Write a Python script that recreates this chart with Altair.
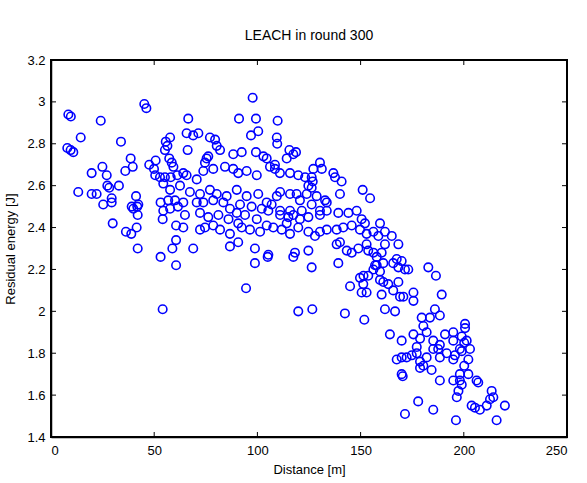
import altair as alt
import pandas as pd

# Distance [m] and residual energy [J]
dist = [
    8.4, 9.6, 24.1, 45.2, 46.2, 14.4, 33.9, 7.9, 9.5, 10.8, 38.6, 55.6, 56.4, 57.7, 55.2, 50.7, 47.6, 49.9, 50.5, 57.3,
    58.5, 24.9, 19.7, 27.0, 36.0, 39.6, 27.3, 28.2, 32.9, 13.2, 19.7, 22.1, 29.4, 41.2, 25.3, 39.1, 41.8, 52.8, 55.2, 58.0,
    61.2, 54.4, 57.7, 53.1, 56.8, 60.1, 61.5,
    29.4, 42.3, 39.9, 42.0, 29.9, 36.3, 38.9, 41.5, 42.0, 54.4, 54.1, 57.7, 60.6, 60.6, 58.8, 53.1, 60.6, 54.1,
    97.7, 66.5, 91.1, 99.3, 109.8, 65.7, 68.9, 71.4, 100.4, 96.9, 109.4, 109.6, 66.2, 77.0, 79.5, 80.3, 81.9, 75.4, 74.6, 76.2,
    88.3, 92.4, 99.3, 102.9, 104.5, 114.2, 115.5, 118.7, 108.5, 59.3,
    64.1, 65.7, 70.6, 73.8, 78.6, 84.3, 88.3, 90.7, 94.8, 99.7, 106.1, 108.5, 110.9, 115.8, 119.8, 123.1, 126.3,
    62.5, 67.3, 72.2, 77.0, 80.3, 85.1, 90.0, 94.8, 100.4, 104.5, 109.4, 111.0, 115.8, 119.0, 120.6, 123.9, 128.7, 132.8,
    64.1, 70.6, 73.8, 78.6, 83.5, 86.7, 91.6, 97.2, 102.1, 106.9, 111.0, 115.8, 121.5, 126.3, 130.3, 133.6,
    64.9, 72.2, 76.2, 81.1, 86.0, 90.0, 94.0, 99.7, 105.3, 111.0, 115.0, 117.4, 120.6, 124.7, 130.3, 133.6,
    64.1, 72.2, 74.6, 78.6, 81.9, 86.7, 90.7, 92.4, 96.4, 101.3, 104.5, 107.7, 111.8, 114.2, 115.8, 119.8, 124.7, 127.9,
    130.3, 133.6,
    68.9, 86.7, 98.8, 105.3, 118.2, 124.7,
    90.7, 98.8, 105.0, 117.4, 94.5, 119.8,
    130.3, 131.2, 127.1, 126.3, 126.8, 124.7, 136.8, 137.6, 140.8, 140.0, 151.0, 154.6, 117.4, 139.2, 144.1, 148.1, 150.5,
    152.1, 159.4, 161.8, 165.1, 168.3, 158.6, 156.2, 152.9, 149.7, 145.7, 141.6, 138.4, 140.0, 138.4, 143.3, 145.7, 148.9,
    152.9, 153.7, 156.2, 157.8, 160.2, 161.8, 167.5, 169.9, 171.5, 173.1, 165.8, 168.3, 157.0, 159.4, 151.4, 149.7, 139.2,
    126.3,
    126.6, 142.4, 151.8, 144.9, 153.7, 151.3, 150.5, 152.9, 156.2, 157.8, 159.4, 160.2, 161.8,
    161.0, 182.8, 186.5, 189.3, 161.0, 163.4, 165.8, 168.3, 169.1, 170.7, 175.6, 175.6, 166.7, 179.6, 183.6, 186.0, 188.4,
    200.6, 200.6, 164.2, 169.9, 175.6, 180.4, 182.0, 178.8, 185.2, 190.9, 194.9, 199.0, 194.9, 188.4, 200.2, 177.2,
    201.4, 203.0, 198.1, 194.9, 191.7, 188.4, 185.2, 182.0, 178.8, 177.2, 174.8, 172.3, 169.9, 167.5, 180.4, 184.4, 188.4,
    194.9, 198.1, 202.2, 206.2, 199.0, 197.4, 196.6, 213.5, 214.3, 212.7, 211.1, 207.8, 205.4, 203.8, 177.9, 185.2, 171.5,
    196.2, 215.9, 219.9, 169.9, 170.4,
    187.6, 199.0, 195.7, 202.2, 178.8, 198.1, 200.2, 207.0,
]
energy = [
    2.94, 2.93, 2.91, 2.99, 2.97, 2.83, 2.81, 2.78, 2.77, 2.76, 2.73, 2.81, 2.79, 2.83, 2.77, 2.72, 2.70, 2.68, 2.65, 2.73,
    2.71, 2.69, 2.66, 2.65, 2.67, 2.69, 2.60, 2.59, 2.60, 2.57, 2.56, 2.56, 2.54, 2.55, 2.51, 2.50, 2.50, 2.64, 2.64, 2.64,
    2.65, 2.61, 2.58, 2.52, 2.53, 2.53, 2.50,
    2.52, 2.51, 2.49, 2.46, 2.42, 2.38, 2.37, 2.40, 2.30, 2.48, 2.44, 2.49, 2.41, 2.34, 2.30, 2.26, 2.22, 2.01,
    3.02, 2.92, 2.92, 2.92, 2.91, 2.85, 2.84, 2.85, 2.86, 2.84, 2.83, 2.80, 2.77, 2.83, 2.82, 2.79, 2.77, 2.73, 2.71, 2.74,
    2.75, 2.76, 2.76, 2.74, 2.73, 2.73, 2.77, 2.76, 2.70, 2.69,
    2.66, 2.65, 2.63, 2.67, 2.68, 2.69, 2.68, 2.66, 2.67, 2.65, 2.69, 2.68, 2.66, 2.66, 2.65, 2.64, 2.59,
    2.60, 2.57, 2.56, 2.58, 2.56, 2.55, 2.58, 2.55, 2.56, 2.52, 2.55, 2.57, 2.56, 2.56, 2.53, 2.56, 2.55, 2.53,
    2.52, 2.52, 2.52, 2.53, 2.52, 2.49, 2.51, 2.50, 2.49, 2.51, 2.48, 2.48, 2.48, 2.51, 2.48, 2.52,
    2.46, 2.47, 2.45, 2.46, 2.44, 2.47, 2.46, 2.44, 2.48, 2.46, 2.45, 2.46, 2.44, 2.45, 2.46, 2.48,
    2.40, 2.39, 2.40, 2.41, 2.39, 2.37, 2.42, 2.40, 2.39, 2.38, 2.41, 2.40, 2.39, 2.42, 2.37, 2.40, 2.38, 2.36,
    2.38, 2.39,
    2.30, 2.31, 2.30, 2.27, 2.28, 2.29,
    2.33, 2.23, 2.26, 2.26, 2.11, 2.00,
    2.71, 2.68, 2.68, 2.64, 2.62, 2.60, 2.66, 2.64, 2.62, 2.56, 2.58, 2.54, 2.75, 2.47, 2.47, 2.48, 2.44,
    2.42, 2.42, 2.38, 2.36, 2.32, 2.36, 2.38, 2.37, 2.39, 2.41, 2.40, 2.39, 2.33, 2.32, 2.29, 2.28, 2.30,
    2.32, 2.29, 2.28, 2.26, 2.28, 2.32, 2.25, 2.24, 2.20, 2.20, 2.23, 2.21, 2.22, 2.19, 2.17, 2.16, 2.23,
    2.21,
    2.01, 1.99, 1.96, 2.12, 2.17, 2.13, 2.09, 2.09, 2.20, 2.22, 2.15, 2.08, 2.01,
    2.23, 2.21, 2.17, 2.08, 2.14, 2.13, 2.10, 2.14, 2.07, 2.07, 2.09, 2.05, 2.00, 1.97, 1.97, 2.01, 1.98,
    1.94, 1.92, 1.89, 1.86, 1.89, 1.93, 1.90, 1.87, 1.86, 1.89, 1.90, 1.88, 1.86, 1.84, 1.85, 1.83,
    1.86, 1.82, 1.82, 1.77, 1.80, 1.78, 1.82, 1.78, 1.76, 1.80, 1.79, 1.78, 1.78, 1.77, 1.74, 1.72, 1.67,
    1.67, 1.67, 1.70, 1.67, 1.65, 1.62, 1.59, 1.62, 1.59, 1.58, 1.55, 1.53, 1.54, 1.55, 1.57, 1.53, 1.51,
    1.48, 1.48, 1.55, 1.70, 1.69,
    1.82, 1.81, 1.79, 1.77, 1.73, 1.70, 1.74, 1.66,
]

x_ticks = [0, 50, 100, 150, 200, 250]
y_ticks = [1.4, 1.6, 1.8, 2.0, 2.2, 2.4, 2.6, 2.8, 3.0, 3.2]
x_range = [0, 250]
y_range = [1.4, 3.2]

W, H = 516, 377
FONT = "Liberation Sans"

df = pd.DataFrame({"dist": dist, "energy": energy})
xt = pd.DataFrame({"t": x_ticks})
yt = pd.DataFrame({"t": y_ticks})

xs = alt.Scale(domain=x_range, nice=False, zero=False)
ys = alt.Scale(domain=y_range, nice=False, zero=False)

common = dict(tickSize=0, grid=False, labelFontSize=13, titleFontSize=13,
              labelFont=FONT, titleFont=FONT, labelColor="black", titleColor="black",
              titleFontWeight="normal", domain=True, domainColor="black", domainWidth=1.5)
x_axis = alt.Axis(values=x_ticks, labelPadding=7, titlePadding=6, **common)
y_axis = alt.Axis(values=y_ticks, labelPadding=6, titlePadding=9, format=".1~f", **common)
XT = "Distance [m]"
YT = "Residual energy [J]"

points = alt.Chart(df).mark_point(
    shape="circle", filled=False, color="#0000ff", size=72, strokeWidth=1.6, opacity=1
).encode(
    x=alt.X("dist:Q", scale=xs, title=XT, axis=x_axis),
    y=alt.Y("energy:Q", scale=ys, title=YT, axis=y_axis),
)

# plot box (MATLAB style)
box = alt.Chart(xt).mark_rect(
    fill="transparent", stroke="black", strokeWidth=2
).encode(
    x=alt.value(0), x2=alt.value(W), y=alt.value(0), y2=alt.value(H)
)

# inward tick marks on all four sides
bottom_ticks = alt.Chart(xt).mark_rule(color="black", strokeWidth=1).encode(
    x=alt.X("t:Q", scale=xs, title=XT, axis=x_axis),
    y=alt.value(H), y2=alt.value(H - 5))
top_ticks = alt.Chart(xt).mark_rule(color="black", strokeWidth=1).encode(
    x=alt.X("t:Q", scale=xs, title=XT, axis=x_axis),
    y=alt.value(0), y2=alt.value(5))
left_ticks = alt.Chart(yt).mark_rule(color="black", strokeWidth=1).encode(
    y=alt.Y("t:Q", scale=ys, title=YT, axis=y_axis),
    x=alt.value(0), x2=alt.value(5))
right_ticks = alt.Chart(yt).mark_rule(color="black", strokeWidth=1).encode(
    y=alt.Y("t:Q", scale=ys, title=YT, axis=y_axis),
    x=alt.value(W), x2=alt.value(W - 5))

chart = alt.layer(
    points, box, bottom_ticks, top_ticks, left_ticks, right_ticks
).properties(
    width=W, height=H,
    background="white",
    title=alt.TitleParams("LEACH in round 300", fontSize=14, fontWeight="normal",
                          font=FONT, color="black", offset=11),
    autosize=alt.AutoSizeParams(type="none"),
    padding={"left": 51, "top": 60, "right": 20, "bottom": 46},
).configure_view(
    stroke="black", strokeWidth=1.5
)

chart.save("out.html", embed_options={"renderer": "svg", "actions": False})
